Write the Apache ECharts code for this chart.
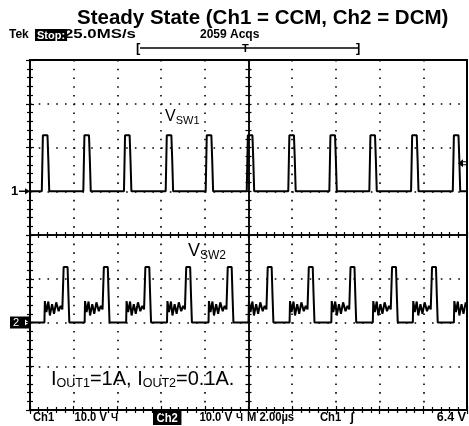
<!DOCTYPE html>
<html>
<head>
<meta charset="utf-8">
<script src="https://cdn.jsdelivr.net/npm/echarts@6/dist/echarts.min.js"></script>
<style>
html, body { margin: 0; padding: 0; background: #fff; }
#chart { width: 469px; height: 426px; }
</style>
</head>
<body>
<div id="chart"></div>
<script>
// scope screen: 10 div x 2 µs, 8 div x 10 V
const timeMax = 20
const timeStep = 2
const voltsPerDiv = 10
const ch1Ground = 5   // divisions above the bottom edge
const ch2Ground = 2
const trigLevel = 6.4 // V on Ch1

// Ch1 (CCM): rising edges of the pulses, µs
const ch1Edges = [0.54, 2.44, 4.30, 6.21, 8.04, 9.92, 11.82, 13.70, 15.53, 17.44, 19.35]
// one pulse, times relative to the edge (µs) and volts
const ch1PulseT = [0, 0.05, 0.26, 0.30, 0.34]
const ch1PulseV = [0, 12.8, 12.8, 7.0, 0]

// Ch2 (DCM): rising edges of the main pulses, µs
const ch2Edges = [1.52, 3.36, 5.26, 7.13, 9.03, 10.86, 12.74, 14.65, 16.55, 18.38, 20.26]
// ringing before the pulse, then the pulse itself
const ch2PulseT = [-0.86, -0.84, -0.77, -0.68, -0.61, -0.51, -0.42, -0.32, -0.21, -0.12, -0.04, 0.02, 0.20, 0.24, 0.28]
const ch2PulseV = [0, 4.9, 2.4, 4.8, 1.6, 4.2, 2.0, 4.6, 2.6, 3.8, 3.0, 12.7, 12.7, 6.0, 0]

const buildTrace = (edges, dts, vs, ground) => {
  const pts = [[0, ground]]
  edges.forEach(e => {
    dts.forEach((dt, i) => pts.push([e + dt, ground + vs[i] / voltsPerDiv]))
  })
  if (pts[pts.length - 1][0] < timeMax) pts.push([timeMax, ground])
  return pts
}

const ch1Data = buildTrace(ch1Edges, ch1PulseT, ch1PulseV, ch1Ground)
const ch2Data = buildTrace(ch2Edges, ch2PulseT, ch2PulseV, ch2Ground)

const chart = echarts.init(document.getElementById('chart'))

const G = { left: 30, top: 60, width: 437, height: 350 }
const dots = { color: '#000', width: 1.6, type: [1.6, 7.14] }
const tick = (len, inside) => ({ show: true, inside, length: len, lineStyle: { color: '#000', width: 1.2 } })
const minor = (len) => ({ show: true, splitNumber: 5, length: len, lineStyle: { color: '#000', width: 1.2 } })
const scopeFont = 'Liberation Sans'

const option = {
  animation: false,
  title: {
    text: 'Steady State (Ch1 = CCM, Ch2 = DCM)',
    left: 72,
    top: 3,
    textStyle: { fontFamily: scopeFont, fontSize: 20.5, fontWeight: 'bold', color: '#000' }
  },
  grid: [
    { ...G, show: true, borderColor: '#000', borderWidth: 2, backgroundColor: 'transparent' },
    { ...G, show: false }
  ],
  xAxis: [
    {
      gridIndex: 0, type: 'value', min: 0, max: timeMax, interval: timeStep, position: 'bottom',
      axisLine: { show: false }, axisLabel: { show: false },
      axisTick: tick(4, true), minorTick: minor(3),
      splitLine: { show: true, lineStyle: dots }
    },
    {
      gridIndex: 0, type: 'value', min: 0, max: timeMax, interval: timeStep, position: 'top',
      axisLine: { show: false }, axisLabel: { show: false },
      axisTick: tick(4, true), minorTick: minor(3), splitLine: { show: false }
    },
    {
      gridIndex: 1, type: 'value', min: -5, max: 5, interval: 1, position: 'bottom',
      axisLine: { show: true, onZero: true, lineStyle: { color: '#000', width: 1.5 } },
      axisLabel: { show: false }, axisTick: tick(3, false), minorTick: minor(3), splitLine: { show: false }
    },
    {
      gridIndex: 1, type: 'value', min: -5, max: 5, interval: 1, position: 'top',
      axisLine: { show: true, onZero: true, lineStyle: { color: '#000', width: 1.5 } },
      axisLabel: { show: false }, axisTick: tick(3, false), minorTick: minor(3), splitLine: { show: false }
    }
  ],
  yAxis: [
    {
      gridIndex: 0, type: 'value', min: 0, max: 8, interval: 1, position: 'left',
      axisLine: { show: false }, axisLabel: { show: false },
      axisTick: tick(4, true), minorTick: minor(3),
      splitLine: { show: true, lineStyle: dots }
    },
    {
      gridIndex: 0, type: 'value', min: 0, max: 8, interval: 1, position: 'right',
      axisLine: { show: false }, axisLabel: { show: false },
      axisTick: tick(4, true), minorTick: minor(3), splitLine: { show: false }
    },
    {
      gridIndex: 1, type: 'value', min: -4, max: 4, interval: 1, position: 'left',
      axisLine: { show: true, onZero: true, lineStyle: { color: '#000', width: 1.5 } },
      axisLabel: { show: false }, axisTick: tick(3, false), minorTick: minor(3), splitLine: { show: false }
    },
    {
      gridIndex: 1, type: 'value', min: -4, max: 4, interval: 1, position: 'right',
      axisLine: { show: true, onZero: true, lineStyle: { color: '#000', width: 1.5 } },
      axisLabel: { show: false }, axisTick: tick(3, false), minorTick: minor(3), splitLine: { show: false }
    }
  ],
  series: [
    {
      name: 'Ch1', type: 'line', xAxisIndex: 0, yAxisIndex: 0,
      showSymbol: false, lineStyle: { color: '#000', width: 2 }, data: ch1Data
    },
    {
      name: 'Ch2', type: 'line', xAxisIndex: 0, yAxisIndex: 0,
      showSymbol: false, lineStyle: { color: '#000', width: 2 }, data: ch2Data
    }
  ]
}

chart.setOption(option)

// screen annotations placed from the axis scale
const px = (t, d) => chart.convertToPixel({ gridIndex: 0 }, [t, d])
const g1 = px(0, ch1Ground)[1]
const g2 = px(0, ch2Ground)[1]
const trig = px(timeMax, ch1Ground + trigLevel / voltsPerDiv)[1]
const b = { fontFamily: scopeFont, fontSize: 12, fontWeight: 'bold', fill: '#000' }
const inv = { backgroundColor: '#000', fill: '#fff', fontFamily: scopeFont, fontWeight: 'bold', padding: [1, 2, 0, 2] }
const txt = (x, y, text, extra, sx) => ({
  type: 'text', x, y, scaleX: sx || 1,
  style: { ...b, text, verticalAlign: 'middle', ...extra }
})
const foot = 0.9

const graphics = [
  // header row
  txt(9, 35, 'Tek'),
  txt(35, 35, '{i|Stop:}', { rich: { i: { ...inv, fontSize: 11 } } }),
  txt(64, 35, '25.0MS/s', null, 1.4),
  txt(200, 35, '2059 Acqs'),
  // record bracket
  { type: 'line', shape: { x1: 140, y1: 48, x2: 359, y2: 48 }, style: { stroke: '#000', lineWidth: 1.5 } },
  txt(136, 48, '[', { fontSize: 13 }),
  txt(356, 48, ']', { fontSize: 13 }),
  txt(242, 49, 'T', { fontSize: 11 }),
  // footer row
  txt(33, 418, 'Ch1', { fontSize: 12.5 }, foot),
  txt(107, 418, '10.0 V', { align: 'right', fontSize: 12.5 }, foot),
  txt(111, 418, 'Ч', { fontSize: 10 }),
  txt(153, 418, '{i|Ch2}', { rich: { i: { ...inv, fontSize: 12.5, padding: [1, 4, 0, 4] } } }, foot),
  txt(232, 418, '10.0 V', { align: 'right', fontSize: 12.5 }, foot),
  txt(236, 418, 'Ч', { fontSize: 10 }),
  txt(247, 418, 'M 2.00µs', { fontSize: 12.5 }, foot),
  txt(320, 418, 'Ch1', { fontSize: 12.5 }, foot),
  txt(350, 418, 'ʃ', { fontSize: 12.5 }),
  txt(466, 418, '6.4 V', { align: 'right', fontSize: 12.5 }),
  // Ch1 ground marker
  txt(11, g1, '1', { fontSize: 13 }),
  { type: 'line', shape: { x1: 19, y1: g1, x2: 27, y2: g1 }, style: { stroke: '#000', lineWidth: 1.5 } },
  { type: 'polygon', shape: { points: [[30, g1], [25, g1 - 3], [25, g1 + 3]] }, style: { fill: '#000' } },
  // Ch2 ground marker
  { type: 'rect', shape: { x: 10, y: g2 - 6, width: 20, height: 12 }, style: { fill: '#000' } },
  txt(13, g2, '2', { fontSize: 11, fill: '#fff', fontWeight: 'normal' }),
  { type: 'polygon', shape: { points: [[29, g2], [25, g2 - 3], [25, g2 + 3]] }, style: { fill: '#fff' } },
  // trigger level marker
  { type: 'polygon', shape: { points: [[458, trig], [463, trig - 4], [463, trig + 4]] }, style: { fill: '#000' } },
  { type: 'line', shape: { x1: 462, y1: trig - 1.5, x2: 467, y2: trig - 1.5 }, style: { stroke: '#000', lineWidth: 1 } },
  { type: 'line', shape: { x1: 462, y1: trig + 1.5, x2: 467, y2: trig + 1.5 }, style: { stroke: '#000', lineWidth: 1 } },
  // trace labels
  txt(165, 117, '{v|V}{s|SW1}', { rich: { v: { fontFamily: scopeFont, fontSize: 16 }, s: { fontFamily: scopeFont, fontSize: 11, padding: [8, 0, 0, 0] } } }),
  txt(188, 251, '{v|V}{s|SW2}', { rich: { v: { fontFamily: scopeFont, fontSize: 18 }, s: { fontFamily: scopeFont, fontSize: 12, padding: [9, 0, 0, 0] } } }),
  txt(51, 379, '{v|I}{s|OUT1}{v|=1A, I}{s|OUT2}{v|=0.1A.}', {
    rich: { v: { fontFamily: scopeFont, fontSize: 20 }, s: { fontFamily: scopeFont, fontSize: 12.5, padding: [9, 0, 0, 0] } }
  })
]

chart.setOption({ graphic: graphics })

window.addEventListener('resize', () => chart.resize())
</script>
</body>
</html>
